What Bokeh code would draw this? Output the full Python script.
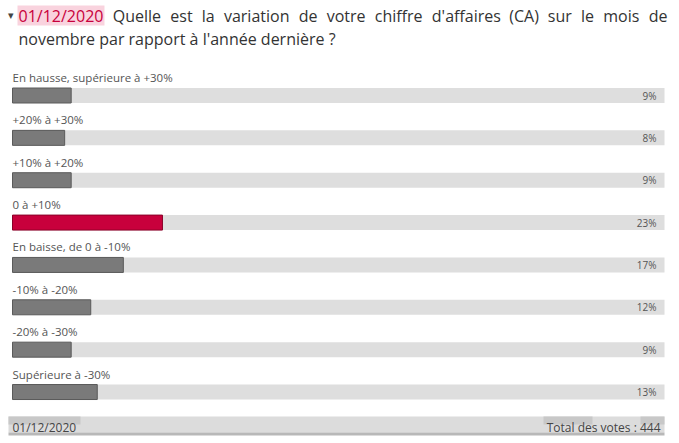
from bokeh.plotting import figure
from bokeh.models import Range1d, ColumnDataSource
from bokeh.core.properties import value
from bokeh.embed import file_html
from bokeh.resources import INLINE

# ---- data ----
categories = [
    "En hausse, supérieure à +30%",
    "+20% à +30%",
    "+10% à +20%",
    "0 à +10%",
    "En baisse, de 0 à -10%",
    "-10% à -20%",
    "-20% à -30%",
    "Supérieure à -30%",
]
percents = [9, 8, 9, 23, 17, 12, 9, 13]
highlight = [False, False, False, True, False, False, False, False]
date_label = "01/12/2020"
question_line1 = "Quelle est la variation de votre chiffre d'affaires (CA) sur le mois de"
question_line2 = "novembre par rapport à l'année dernière ?"
footer_left = "01/12/2020"
footer_right = "Total des votes : 444"

FONT = "Open Sans"
W, H = 679, 443
X0, XS = 12.0, 6.52       # pixel of 0 %, pixels per %
Y0, YS = 95.0, 42.36      # pixel centre of row 0, pixels per row

def ux(px):
    return (px - X0) / XS

def uy(px):
    return (px - Y0) / YS

p = figure(width=W, height=H, output_backend="svg", toolbar_location=None,
           x_range=Range1d(ux(0), ux(W)), y_range=Range1d(uy(H), uy(0)),
           min_border=0, background_fill_color="white", border_fill_color="white")
p.axis.visible = False
p.grid.visible = False
p.outline_line_color = None

rows = list(range(len(categories)))
bar_h = 15 / YS
colors = ["#c8003c" if h else "#7a7a7a" for h in highlight]
borders = ["#8a0028" if h else "#5a5a5a" for h in highlight]
src = ColumnDataSource(dict(
    y=rows,
    left=[0] * len(rows),
    full=[100] * len(rows),
    pct=percents,
    color=colors,
    border=borders,
    lab=categories,
    lab_y=[r - 18 / YS for r in rows],
    val=[f"{v}%" for v in percents],
    val_x=[ux(656)] * len(rows),
))

# tracks
p.hbar(y="y", left="left", right="full", height=bar_h, source=src,
       fill_color="#dedede", line_color=None)
# bars
p.hbar(y="y", left="left", right="pct", height=bar_h, source=src,
       fill_color="color", line_color="border", line_width=1)
# category labels
p.text(x="left", y="lab_y", text="lab", source=src, text_font=value(FONT),
       text_font_size="11.5px", text_color="#555555", text_baseline="middle",
       text_align="left")
# value labels
p.text(x="val_x", y="y", text="val", source=src, text_font=value(FONT),
       text_font_size="10px", text_color="#555555", text_baseline="middle",
       text_align="right")

# ---- title (line 1 justified between x=18 and x=667) ----
TS = 16.0
ADV = {" ": 532, "a": 1139, "b": 1255, "c": 975, "d": 1255, "e": 1149, "f": 694,
       "h": 1257, "i": 518, "l": 518, "m": 1905, "n": 1257, "o": 1237, "p": 1255,
       "r": 836, "s": 977, "t": 723, "u": 1257, "v": 1026, "Q": 1599, "C": 1298,
       "A": 1296, "(": 578, ")": 578, "'": 334, "/": 754}
def wwidth(w):
    return sum(ADV.get(ch, 1171) for ch in w) / 2048 * TS

words = [date_label] + question_line1.split(" ")
natural = sum(wwidth(w) for w in words)
gap = (667 - 18 - natural) / (len(words) - 1)
xs = []
cur = 18.0
for w in words:
    xs.append(cur)
    cur += wwidth(w) + gap
date_end = xs[0] + wwidth(date_label)

p.text(x=[ux(7)], y=[uy(14)], text=["▾"], text_font=value(FONT),
       text_font_size="11px", text_color="#444444", text_baseline="middle")
p.quad(left=[ux(17)], right=[ux(date_end + 1)], top=[uy(5)], bottom=[uy(25)],
       fill_color="#f9d3de", line_color=None)
p.text(x=[ux(xs[0])], y=[uy(15)], text=[date_label], text_font=value(FONT),
       text_font_size=f"{TS}px", text_color="#c8003c", text_baseline="middle")
p.text(x=[ux(x) for x in xs[1:]], y=[uy(15)] * (len(words) - 1), text=words[1:],
       text_font=value(FONT), text_font_size=f"{TS}px", text_color="#333333",
       text_baseline="middle")
p.text(x=[ux(18)], y=[uy(38)], text=[question_line2], text_font=value(FONT),
       text_font_size=f"{TS}px", text_color="#333333", text_baseline="middle")

# ---- footer ----
p.quad(left=[ux(8)], right=[ux(664)], top=[uy(416)], bottom=[uy(432)],
       fill_color="#dcdcdc", line_color=None)
p.quad(left=[ux(8), ux(543), ux(640)], right=[ux(80), ux(592), ux(664)],
       top=[uy(416)] * 3, bottom=[uy(424)] * 3,
       fill_color="#c8c8c8", line_color=None)
p.quad(left=[ux(8)], right=[ux(664)], top=[uy(432)], bottom=[uy(435)],
       fill_color="#b8b8b8", line_color=None)
p.text(x=[ux(12)], y=[uy(427)], text=[footer_left], text_font=value(FONT),
       text_font_size="12px", text_color="#444444", text_baseline="middle")
p.text(x=[ux(660)], y=[uy(427)], text=[footer_right], text_font=value(FONT),
       text_font_size="12px", text_color="#444444", text_baseline="middle",
       text_align="right")

open("out.html", "w").write(file_html(p, INLINE))
